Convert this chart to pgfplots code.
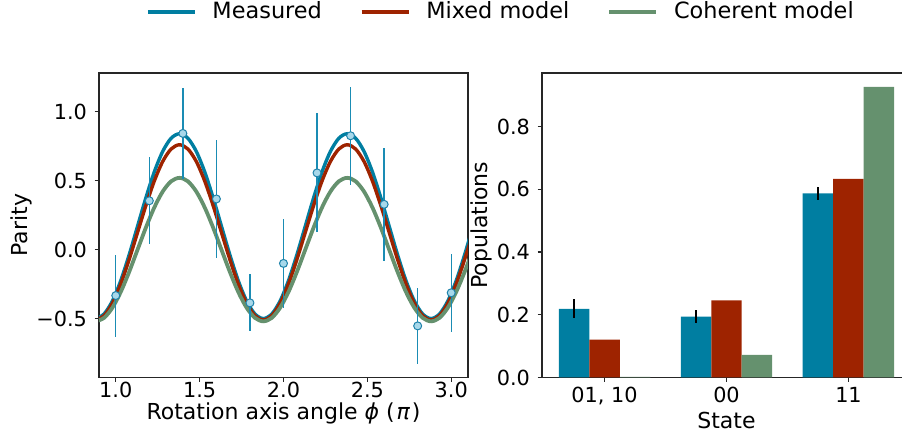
\documentclass[border=0pt]{standalone}
\usepackage{fontspec}
\setmainfont{DejaVu Sans}
\usepackage{pgfplots}
\usepackage{pgfplotstable}
\pgfplotsset{compat=1.18}

\definecolor{cMeas}{RGB}{0,126,161}
\definecolor{cMix}{RGB}{158,35,0}
\definecolor{cCoh}{RGB}{101,145,110}
\definecolor{cPt}{RGB}{168,216,234}
\definecolor{cPtEdge}{RGB}{30,130,170}
\definecolor{cErr}{RGB}{26,140,180}

% fitted curves
\pgfplotstableread{
x     meas    mixed   coh
0.88  -0.500  -0.510  -0.520
0.93  -0.467  -0.479  -0.495
0.98  -0.372  -0.389  -0.421
1.03  -0.224  -0.248  -0.306
1.08  -0.037  -0.071  -0.161
1.13   0.170   0.125   0.000
1.18   0.377   0.321   0.161
1.23   0.564   0.498   0.306
1.28   0.712   0.639   0.421
1.33   0.807   0.729   0.495
1.38   0.840   0.760   0.520
1.43   0.807   0.729   0.495
1.48   0.712   0.639   0.421
1.53   0.564   0.498   0.306
1.58   0.377   0.321   0.161
1.63   0.170   0.125   0.000
1.68  -0.037  -0.071  -0.161
1.73  -0.224  -0.248  -0.306
1.78  -0.372  -0.389  -0.421
1.83  -0.467  -0.479  -0.495
1.88  -0.500  -0.510  -0.520
1.93  -0.467  -0.479  -0.495
1.98  -0.372  -0.389  -0.421
2.03  -0.224  -0.248  -0.306
2.08  -0.037  -0.071  -0.161
2.13   0.170   0.125   0.000
2.18   0.377   0.321   0.161
2.23   0.564   0.498   0.306
2.28   0.712   0.639   0.421
2.33   0.807   0.729   0.495
2.38   0.840   0.760   0.520
2.43   0.807   0.729   0.495
2.48   0.712   0.639   0.421
2.53   0.564   0.498   0.306
2.58   0.377   0.321   0.161
2.63   0.170   0.125   0.000
2.68  -0.037  -0.071  -0.161
2.73  -0.224  -0.248  -0.306
2.78  -0.372  -0.389  -0.421
2.83  -0.467  -0.479  -0.495
2.88  -0.500  -0.510  -0.520
2.93  -0.467  -0.479  -0.495
2.98  -0.372  -0.389  -0.421
3.03  -0.224  -0.248  -0.306
3.08  -0.037  -0.071  -0.161
3.13   0.170   0.125   0.000
}\curves

% measured parity
\pgfplotstableread{
x    y       e
1.0  -0.333  0.297
1.2   0.354  0.317
1.4   0.842  0.330
1.6   0.367  0.426
1.8  -0.386  0.207
2.0  -0.100  0.323
2.2   0.556  0.431
2.4   0.825  0.355
2.6   0.328  0.409
2.8  -0.553  0.276
3.0  -0.313  0.283
}\points

% populations, bars placed at category +- 0.25
\pgfplotstableread{
x      y      e
-0.25  0.219  0.030
 0.75  0.194  0.021
 1.75  0.587  0.021
}\popmeas
\pgfplotstableread{
x     y
0.00  0.121
1.00  0.246
2.00  0.633
}\popmix
\pgfplotstableread{
x     y
0.25  0.002
1.25  0.072
2.25  0.927
}\popcoh

\pgfplotsset{
  mpl/.style={
    scale only axis,
    width=184.5pt, height=152.25pt,
    axis line style={black!85, line width=0.6pt},
    tick style={black!85, line width=0.6pt},
    tick align=outside, tick pos=left,
    major tick length=2.2pt,
    every axis label/.append style={font=\fontsize{11}{13}\selectfont, inner sep=0pt},
    tick label style={font=\fontsize{10.4}{12}\selectfont},
  },
}

\begin{document}
\fontsize{11}{13}\selectfont
\begin{tikzpicture}
\useasboundingbox (0,0) rectangle (451pt,219.5pt);
\clip (0,0) rectangle (451pt,219.5pt);

\begin{axis}[mpl,
    at={(49.5pt,30.75pt)}, anchor=south west,
    xmin=0.9, xmax=3.1, ymin=-0.927, ymax=1.28,
    xtick={1,1.5,2,2.5,3}, xticklabels={1.0,1.5,2.0,2.5,3.0},
    ytick={-0.5,0,0.5,1}, yticklabels={−0.5,0.0,0.5,1.0},
    xticklabel style={inner sep=1pt, yshift=1pt},
    xlabel={Rotation axis angle \textit{ϕ} (\kern0.08em\textit{π}\kern0.08em)},
    ylabel={Parity},
    xlabel style={at={(axis description cs:0.5,-0.119)}, anchor=center},
    ylabel style={at={(axis description cs:-0.21,0.5)}, anchor=center},
    legend columns=3,
    legend style={at={(1.092,1.2)}, anchor=center, draw=none, fill=none,
      font=\fontsize{11.2}{13}\selectfont,
      /tikz/every odd column/.append style={column sep=6pt},
      /tikz/every even column/.append style={column sep=17pt}},
    legend image code/.code={\draw[#1] (0pt,0pt) -- (23.5pt,0pt);},
  ]
  \addplot[smooth, cMeas, line width=1.7pt] table[x=x, y=meas] {\curves};
  \addlegendentry{Measured}
  \addplot[smooth, cMix, line width=1.7pt] table[x=x, y=mixed] {\curves};
  \addlegendentry{Mixed model}
  \addplot[smooth, cCoh, line width=1.9pt] table[x=x, y=coh] {\curves};
  \addlegendentry{Coherent model}
  \addplot[only marks, mark=*, mark size=2pt,
      mark options={fill=cPt, draw=cPtEdge, line width=0.5pt},
      error bars/.cd, y dir=both, y explicit, error mark=none,
      error bar style={cErr, line width=0.7pt}]
    table[x=x, y=y, y error=e] {\points};
\end{axis}

\begin{axis}[mpl,
    at={(271pt,30.75pt)}, anchor=south west,
    xmin=-0.5125, xmax=2.5125, ymin=0, ymax=0.971,
    xtick={0,1,2}, xticklabels={{01, 10},00,11},
    ytick={0,0.2,0.4,0.6,0.8}, yticklabels={0.0,0.2,0.4,0.6,0.8},
    xticklabel style={inner sep=1pt, yshift=-1.5pt},
    xlabel={State}, ylabel={Populations},
    xlabel style={at={(axis description cs:0.5,-0.14)}, anchor=center},
    ylabel style={at={(axis description cs:-0.163,0.5)}, anchor=center},
  ]
  \addplot[ybar, bar width=0.25, bar shift=0pt, fill=cMeas, draw=none,
      error bars/.cd, y dir=both, y explicit, error mark=none,
      error bar style={black, line width=0.8pt}]
    table[x=x, y=y, y error=e] {\popmeas};
  \addplot[ybar, bar width=0.25, bar shift=0pt, fill=cMix, draw=none]
    table[x=x, y=y] {\popmix};
  \addplot[ybar, bar width=0.25, bar shift=0pt, fill=cCoh, draw=none]
    table[x=x, y=y] {\popcoh};
\end{axis}
\end{tikzpicture}
\end{document}
